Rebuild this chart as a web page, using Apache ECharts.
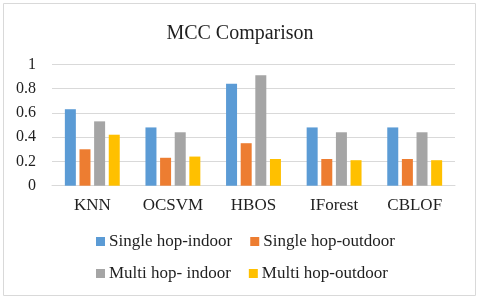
<!DOCTYPE html>
<html>
<head>
<meta charset="utf-8">
<script src="https://cdn.jsdelivr.net/npm/echarts@6/dist/echarts.min.js"></script>
<style>html,body{margin:0;padding:0;background:#fff}#c{width:480px;height:300px}</style>
</head>
<body>
<div id="c"></div>
<script>
var categories = ['KNN', 'OCSVM', 'HBOS', 'IForest', 'CBLOF'];
var singleHopIndoor = [0.63, 0.48, 0.84, 0.48, 0.48];
var singleHopOutdoor = [0.30, 0.23, 0.35, 0.22, 0.22];
var multiHopIndoor = [0.53, 0.44, 0.91, 0.44, 0.44];
var multiHopOutdoor = [0.42, 0.24, 0.22, 0.21, 0.21];
var seriesNames = ['Single hop-indoor', 'Single hop-outdoor', 'Multi hop- indoor', 'Multi hop-outdoor'];
var colors = ['#5B9BD5', '#ED7D31', '#A5A5A5', '#FFC000'];

var font = '"Liberation Serif", "Times New Roman", serif';
var textColor = '#1f1f1f';
var chart = echarts.init(document.getElementById('c'), null, {renderer: 'canvas'});
function bar(name, data, color) {
  return {name: name, type: 'bar', data: data, barWidth: 11, barGap: '33%',
    itemStyle: {color: color}, animation: false};
}
var legendCommon = {
  left: 96, orient: 'horizontal', itemWidth: 9, itemHeight: 9, itemGap: 18, icon: 'rect',
  textStyle: {fontFamily: font, fontSize: 17, color: textColor, padding: [0, 0, 0, -1]},
  padding: 0
};
chart.setOption({
  animation: false,
  color: colors,
  title: {
    text: 'MCC Comparison', left: 'center', top: 19,
    textStyle: {fontFamily: font, fontSize: 20, fontWeight: 'normal', color: textColor}
  },
  legend: [
    Object.assign({}, legendCommon, {top: 233, data: [seriesNames[0], seriesNames[1]]}),
    Object.assign({}, legendCommon, {top: 265, data: [seriesNames[2], seriesNames[3]]})
  ],
  grid: {left: 52, right: 25, top: 64.3, bottom: 114.3, containLabel: false},
  xAxis: {
    type: 'category', data: categories,
    axisTick: {show: false},
    axisLine: {lineStyle: {color: '#d9d9d9', width: 1}},
    axisLabel: {fontFamily: font, fontSize: 17, color: textColor, margin: 11}
  },
  yAxis: {
    type: 'value', min: 0, max: 1, interval: 0.2,
    axisLine: {show: false}, axisTick: {show: false},
    splitLine: {lineStyle: {color: '#d9d9d9', width: 1}},
    axisLabel: {fontFamily: font, fontSize: 16, color: textColor, margin: 16}
  },
  graphic: [{
    type: 'rect', shape: {x: 3.5, y: 3.5, width: 472, height: 292},
    style: {fill: 'none', stroke: '#d9d9d9', lineWidth: 1}, silent: true
  }],
  series: [
    bar(seriesNames[0], singleHopIndoor, colors[0]),
    bar(seriesNames[1], singleHopOutdoor, colors[1]),
    bar(seriesNames[2], multiHopIndoor, colors[2]),
    bar(seriesNames[3], multiHopOutdoor, colors[3])
  ]
});
</script>
</body>
</html>
